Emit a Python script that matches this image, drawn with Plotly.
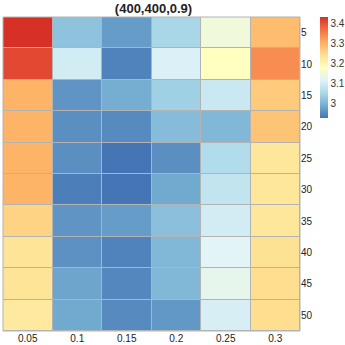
import plotly.graph_objects as go

# columns and rows of the heatmap
x_labels = ['0.05', '0.1', '0.15', '0.2', '0.25', '0.3']
y_labels = ['5', '10', '15', '20', '25', '30', '35', '40', '45', '50']

# values, one list per row (top to bottom)
z_values = [
    [3.435, 3.02, 2.97, 3.05, 3.15, 3.29],
    [3.41, 3.10, 2.94, 3.11, 3.18, 3.34],
    [3.30, 2.96, 2.99, 3.04, 3.09, 3.27],
    [3.30, 2.955, 2.95, 3.01, 3.005, 3.28],
    [3.30, 2.955, 2.925, 2.955, 3.06, 3.23],
    [3.30, 2.935, 2.925, 2.985, 3.08, 3.23],
    [3.26, 2.96, 2.97, 3.015, 3.10, 3.23],
    [3.235, 2.957, 2.94, 3.005, 3.12, 3.24],
    [3.235, 2.98, 2.945, 3.005, 3.13, 3.245],
    [3.225, 2.985, 2.95, 2.965, 3.105, 3.245],
]

cbar_ticks = [3.0, 3.1, 3.2, 3.3, 3.4]
cbar_text = ['3', '3.1', '3.2', '3.3', '3.4']

# RdYlBu (9 class), reversed: blue low -> red high
rdylbu = ['#4575b4', '#74add1', '#abd9e9', '#e0f3f8', '#ffffbf',
          '#fee090', '#fdae61', '#f46d43', '#d73027']
colorscale = [[i / (len(rdylbu) - 1), c] for i, c in enumerate(rdylbu)]

font = 'Liberation Sans'

fig = go.Figure(go.Heatmap(
    x=x_labels,
    y=y_labels,
    z=z_values,
    colorscale=colorscale,
    xgap=1,
    ygap=1,
    colorbar=dict(
        x=1.067, xanchor='left',
        y=1, yanchor='top',
        thickness=8,
        len=101, lenmode='pixels',
        outlinewidth=0,
        tickvals=cbar_ticks,
        ticktext=cbar_text,
        ticks='',
        tickfont=dict(size=10, color='#333333', family=font),
        xpad=0, ypad=0,
    ),
))

# gray frame round the cells
fig.add_shape(type='rect', xref='paper', yref='paper', x0=0, y0=0, x1=1, y1=1,
              line=dict(color='#b3b3b3', width=1))

fig.update_layout(
    width=345,
    height=345,
    margin=dict(l=3, r=45, t=17, b=14, autoexpand=False),
    title=dict(text='<b>(400,400,0.9)</b>', x=0.445, xanchor='center',
               y=0.975, yanchor='middle',
               font=dict(size=13, color='#222222', family=font)),
    plot_bgcolor='#b3b3b3',
    paper_bgcolor='white',
    xaxis=dict(showgrid=False, zeroline=False, ticks='', ticklen=0,
               automargin=False,
               tickfont=dict(size=10, color='#222222', family=font)),
    yaxis=dict(side='right', autorange='reversed', showgrid=False, zeroline=False,
               ticks='', ticklen=0, automargin=False,
               tickfont=dict(size=10, color='#222222', family=font)),
)

# drop the browser's default body margin so the figure sits at the page corner
fig.write_html("out.html", config={'displayModeBar': False},
               post_script="document.body.style.margin='0px';")
